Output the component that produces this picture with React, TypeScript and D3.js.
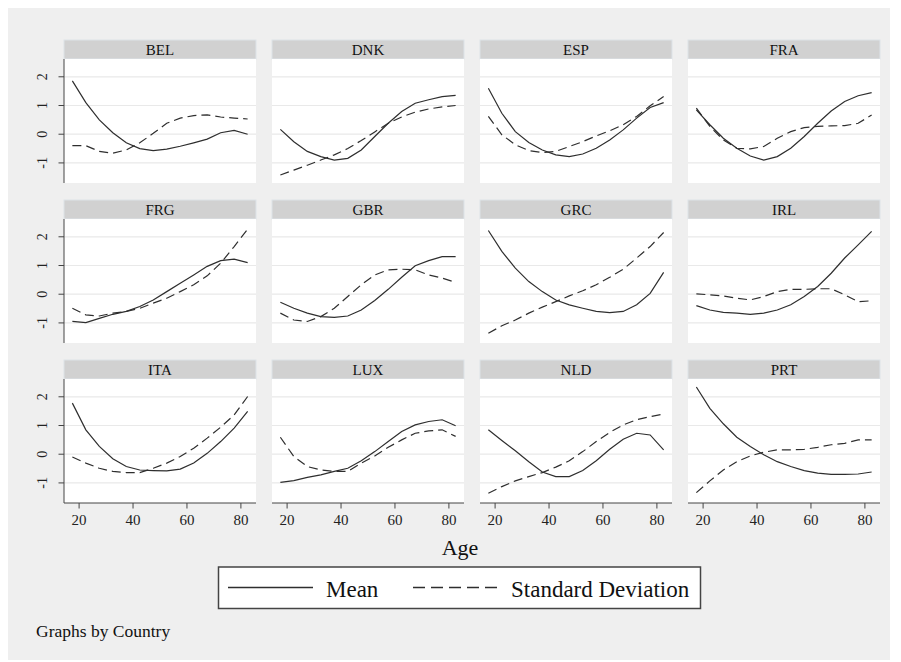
import React from 'react';
import * as d3 from 'd3';

// age group midpoints (x values)
const AGES = [17.5, 22.5, 27.5, 32.5, 37.5, 42.5, 47.5, 52.5, 57.5, 62.5, 67.5, 72.5, 77.5, 82.5];
const COUNTRIES = ['BEL', 'DNK', 'ESP', 'FRA', 'FRG', 'GBR', 'GRC', 'IRL', 'ITA', 'LUX', 'NLD', 'PRT'];
const X_TICKS = [20, 40, 60, 80];
const Y_TICKS = [-1, 0, 1, 2];

// Mean series
const BEL_MEAN = [1.86, 1.1, 0.5, 0.05, -0.3, -0.5, -0.57, -0.52, -0.42, -0.3, -0.17, 0.05, 0.13, 0.0];
const DNK_MEAN = [0.17, -0.26, -0.6, -0.78, -0.9, -0.84, -0.55, -0.08, 0.38, 0.79, 1.08, 1.2, 1.31, 1.35];
const ESP_MEAN = [1.6, 0.73, 0.09, -0.29, -0.55, -0.72, -0.78, -0.69, -0.49, -0.2, 0.15, 0.56, 0.93, 1.1];
const FRA_MEAN = [0.85, 0.33, -0.14, -0.49, -0.76, -0.9, -0.78, -0.49, -0.08, 0.38, 0.81, 1.14, 1.34, 1.45];
const FRG_MEAN = [-0.95, -0.99, -0.84, -0.7, -0.6, -0.43, -0.2, 0.09, 0.38, 0.67, 0.97, 1.17, 1.22, 1.1];
const GBR_MEAN = [-0.28, -0.49, -0.66, -0.78, -0.81, -0.76, -0.55, -0.22, 0.17, 0.59, 0.99, 1.17, 1.31, 1.31];
const GRC_MEAN = [2.22, 1.49, 0.91, 0.44, 0.09, -0.2, -0.37, -0.49, -0.6, -0.64, -0.6, -0.37, 0.03, 0.76];
const IRL_MEAN = [-0.4, -0.55, -0.63, -0.66, -0.7, -0.66, -0.55, -0.37, -0.08, 0.27, 0.73, 1.26, 1.72, 2.19];
const ITA_MEAN = [1.78, 0.85, 0.27, -0.16, -0.43, -0.55, -0.57, -0.58, -0.52, -0.31, 0.03, 0.44, 0.91, 1.49];
const LUX_MEAN = [-0.98, -0.92, -0.81, -0.72, -0.6, -0.49, -0.23, 0.09, 0.44, 0.79, 1.02, 1.14, 1.2, 0.99];
const NLD_MEAN = [0.85, 0.48, 0.12, -0.26, -0.62, -0.78, -0.78, -0.57, -0.23, 0.17, 0.52, 0.73, 0.67, 0.15];
const PRT_MEAN = [2.34, 1.6, 1.06, 0.59, 0.27, -0.02, -0.26, -0.43, -0.57, -0.66, -0.7, -0.7, -0.69, -0.62];

// Standard deviation series
const BEL_SD = [-0.4, -0.4, -0.6, -0.66, -0.55, -0.3, 0.03, 0.38, 0.56, 0.65, 0.67, 0.6, 0.56, 0.53];
const DNK_SD = [-1.42, -1.25, -1.08, -0.9, -0.72, -0.5, -0.22, 0.08, 0.38, 0.6, 0.77, 0.88, 0.95, 1.0];
const ESP_SD = [0.62, -0.02, -0.37, -0.57, -0.64, -0.6, -0.43, -0.26, -0.06, 0.12, 0.33, 0.62, 0.99, 1.31];
const FRA_SD = [0.91, 0.27, -0.2, -0.49, -0.51, -0.43, -0.14, 0.09, 0.23, 0.27, 0.29, 0.3, 0.38, 0.67];
const FRG_SD = [-0.49, -0.72, -0.76, -0.66, -0.6, -0.49, -0.31, -0.14, 0.09, 0.33, 0.64, 1.08, 1.66, 2.27];
const GBR_SD = [-0.66, -0.9, -0.95, -0.78, -0.49, -0.08, 0.33, 0.67, 0.85, 0.87, 0.85, 0.67, 0.56, 0.41];
const GRC_SD = [-1.36, -1.1, -0.9, -0.66, -0.45, -0.26, -0.06, 0.12, 0.33, 0.59, 0.87, 1.26, 1.66, 2.15];
const IRL_SD = [0.01, -0.02, -0.06, -0.14, -0.2, -0.08, 0.09, 0.17, 0.17, 0.19, 0.19, -0.02, -0.26, -0.23];
const ITA_SD = [-0.1, -0.31, -0.49, -0.6, -0.64, -0.64, -0.49, -0.31, -0.08, 0.21, 0.56, 0.94, 1.37, 2.01];
const LUX_SD = [0.59, -0.08, -0.43, -0.55, -0.6, -0.6, -0.31, -0.06, 0.24, 0.5, 0.73, 0.81, 0.85, 0.62];
const NLD_SD = [-1.36, -1.13, -0.93, -0.78, -0.64, -0.45, -0.23, 0.09, 0.44, 0.76, 1.02, 1.2, 1.31, 1.4];
const PRT_SD = [-1.34, -0.93, -0.55, -0.26, -0.06, 0.07, 0.15, 0.15, 0.17, 0.24, 0.33, 0.38, 0.5, 0.5];

const MEANS = [BEL_MEAN, DNK_MEAN, ESP_MEAN, FRA_MEAN, FRG_MEAN, GBR_MEAN, GRC_MEAN, IRL_MEAN, ITA_MEAN, LUX_MEAN, NLD_MEAN, PRT_MEAN];
const SDS = [BEL_SD, DNK_SD, ESP_SD, FRA_SD, FRG_SD, GBR_SD, GRC_SD, IRL_SD, ITA_SD, LUX_SD, NLD_SD, PRT_SD];

const FONT = "'Liberation Serif', 'Times New Roman', serif";
const INK = '#2e2e2e';

const colX = [64, 272, 480, 688];
const rowTop = [40, 200, 360];
const panelW = 192;
const headH = 19;
const plotH = 124;

const x = d3.scaleLinear().domain([14.4, 85.6]).range([0, panelW]);
const y = d3.scaleLinear().domain([-1.7, 2.62]).range([plotH, 0]);
const line = d3.line<number>().x((_, i) => x(AGES[i])).y(d => y(d));

const Panel = ({ idx }: { idx: number }) => {
  const col = idx % 4;
  const row = Math.floor(idx / 4);
  const left = col === 0;
  const bottom = row === 2;
  return (
    <g transform={`translate(${colX[col]},${rowTop[row]})`}>
      <rect x={0} y={0} width={panelW} height={headH} fill="#d1d1d1" stroke="#dde3e8" strokeWidth={1} />
      <text x={panelW / 2} y={14.5} textAnchor="middle" fontSize={15} fill="#111">{COUNTRIES[idx]}</text>
      <g transform={`translate(0,${headH})`}>
        <rect x={0} y={0} width={panelW} height={plotH} fill="#fff" />
        {Y_TICKS.map(t => (
          <line key={t} x1={0} x2={panelW} y1={y(t)} y2={y(t)} stroke="#e9e9e9" strokeWidth={1.2} />
        ))}
        <path d={line(MEANS[idx]) || ''} fill="none" stroke={INK} strokeWidth={1.2} />
        <path d={line(SDS[idx]) || ''} fill="none" stroke={INK} strokeWidth={1.2} strokeDasharray="9,5" />
        {left && (
          <g>
            <line x1={0} x2={0} y1={0} y2={plotH} stroke="#444" strokeWidth={1} />
            {Y_TICKS.map(t => (
              <g key={t}>
                <line x1={-5.5} x2={0} y1={y(t)} y2={y(t)} stroke="#444" strokeWidth={1} />
                <text transform={`translate(-17,${y(t)}) rotate(-90)`} textAnchor="middle" fontSize={14} fill="#222">
                  {t === -1 ? '-1' : String(t)}
                </text>
              </g>
            ))}
          </g>
        )}
        {bottom && (
          <g>
            <line x1={0} x2={panelW} y1={plotH} y2={plotH} stroke="#444" strokeWidth={1} />
            {X_TICKS.map(t => (
              <g key={t}>
                <line x1={x(t)} x2={x(t)} y1={plotH} y2={plotH + 5.5} stroke="#444" strokeWidth={1} />
                <text x={x(t)} y={plotH + 22} textAnchor="middle" fontSize={15} fill="#222">{t}</text>
              </g>
            ))}
          </g>
        )}
      </g>
    </g>
  );
};

export default function App() {
  return (
    <div style={{ position: 'absolute', left: 0, top: 0 }}>
      <svg width={901} height={662} style={{ display: 'block', fontFamily: FONT }}>
        <rect x={0} y={0} width={901} height={662} fill="#fff" />
        <rect x={8} y={8} width={882} height={652} fill="#efefef" />
        {COUNTRIES.map((c, i) => <Panel key={c} idx={i} />)}
        <text x={460} y={555} textAnchor="middle" fontSize={22} fill="#111">Age</text>
        <rect x={218.5} y={567} width={482} height={41.5} fill="#fff" stroke="#444" strokeWidth={1.5} />
        <line x1={228} x2={313} y1={587.5} y2={587.5} stroke={INK} strokeWidth={1.5} />
        <text x={326} y={597} fontSize={23} fill="#111">Mean</text>
        <line x1={413} x2={497} y1={587.5} y2={587.5} stroke={INK} strokeWidth={1.5} strokeDasharray="12,6" />
        <text x={511} y={597} fontSize={23} fill="#111">Standard Deviation</text>
        <text x={36} y={637} fontSize={17.5} fill="#111">Graphs by Country</text>
      </svg>
    </div>
  );
}
